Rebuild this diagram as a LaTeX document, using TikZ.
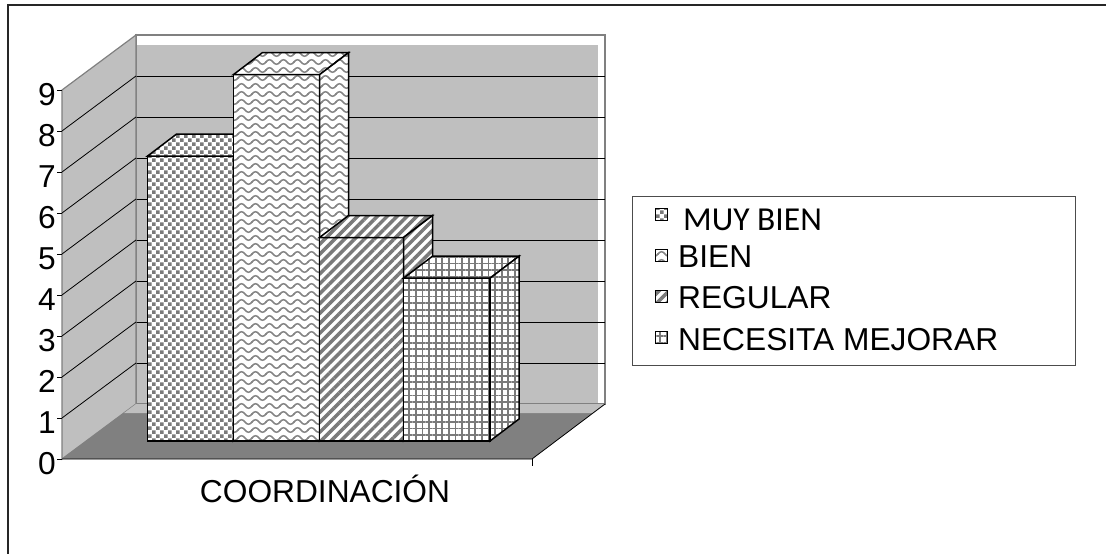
\documentclass[tikz,border=0pt]{standalone}
\usepackage{fontspec}
\setmainfont{Liberation Sans}
\newfontfamily\carl{Carlito}
\usetikzlibrary{patterns,patterns.meta}

\definecolor{wallgray}{gray}{0.75}
\definecolor{floorgray}{gray}{0.5}
\definecolor{edgegray}{gray}{0.5}
\definecolor{patgray}{gray}{0.48}
\definecolor{wavegray}{gray}{0.52}

\pgfdeclarepatternformonly{chkdots}{\pgfqpoint{-0.5pt}{-0.5pt}}{\pgfqpoint{8.5pt}{8.5pt}}{\pgfqpoint{8pt}{8pt}}{%
  \pgfpathrectangle{\pgfqpoint{0pt}{0pt}}{\pgfqpoint{3.6pt}{3.6pt}}%
  \pgfpathrectangle{\pgfqpoint{4pt}{4pt}}{\pgfqpoint{3.6pt}{3.6pt}}%
  \pgfusepath{fill}}
\pgfdeclarepatternformonly{wavy}{\pgfqpoint{-1pt}{-1pt}}{\pgfqpoint{15pt}{9pt}}{\pgfqpoint{14pt}{8pt}}{%
  \pgfsetlinewidth{1.5pt}%
  \pgfpathmoveto{\pgfqpoint{-0.4pt}{3.5pt}}%
  \pgfpathlineto{\pgfqpoint{0pt}{4pt}}%
  \pgfpathcurveto{\pgfqpoint{2.3pt}{7pt}}{\pgfqpoint{4.7pt}{7pt}}{\pgfqpoint{7pt}{4pt}}%
  \pgfpathcurveto{\pgfqpoint{9.3pt}{1pt}}{\pgfqpoint{11.7pt}{1pt}}{\pgfqpoint{14pt}{4pt}}%
  \pgfpathlineto{\pgfqpoint{14.4pt}{4.5pt}}%
  \pgfusepath{stroke}}

\tikzset{
  lbl/.style={font=\fontsize{31.7}{38}\selectfont, inner sep=0pt},
  grid line/.style={black, line width=0.8pt},
  wall edge/.style={edgegray, line width=1.2pt},
  barface/.style={draw=black, line width=1.5pt, line join=miter, preaction={fill=white}},
  pdots/.style={barface, pattern=chkdots, pattern color=patgray},
  pwave/.style={barface, pattern=wavy, pattern color=wavegray},
  pstripe/.style={barface, pattern={Lines[angle=45, distance=7pt, line width=3.5pt]}, pattern color=patgray},
  pgrid/.style={barface, pattern={Hatch[angle=0, distance=6.6pt, line width=1.8pt]}, pattern color=patgray},
  keybox/.style={line width=0.8pt},
}

\newcommand\drawbar[4]{%
  \pgfmathsetmacro\barT{441-40.7*#3}%
  \path[#4] (#1,\barT) rectangle (#2,441);
  \path[#4] (#1,\barT) -- ({#1+29},{\barT-22}) -- ({#2+29},{\barT-22}) -- (#2,\barT) -- cycle;
  \path[#4] (#2,\barT) -- ({#2+29},{\barT-22}) -- ({#2+29},419) -- (#2,441) -- cycle;
}

\begin{document}
\begin{tikzpicture}[x=1pt,y=-1pt]
\useasboundingbox (0,0) rectangle (1106,554);
\fill[white] (0,0) rectangle (1106,554);

% outer frame
\draw[line width=2pt, black!85] (8,560) -- (8,5) -- (1112,5);

% back wall
\draw[wall edge, fill=white] (136,35) rectangle (605,404);
\fill[wallgray] (137,45) rectangle (598,403);
\foreach \k in {1,...,8} \draw[grid line] (136,{404-41*\k}) -- (605,{404-41*\k});

% left wall
\draw[wall edge, fill=wallgray] (62,90) -- (136,35) -- (136,404) -- (62,459) -- cycle;
\foreach \k in {1,...,8} \draw[grid line] (62,{459-41*\k}) -- (136,{404-41*\k});

% floor
\fill[floorgray] (62,459) -- (136,404) -- (605,404) -- (532,459) -- cycle;
\fill[wallgray] (124,413) -- (136,404) -- (605,404) -- (593,413) -- cycle;
\draw[grid line] (62,459) -- (532,459) -- (605,404);
\draw[grid line] (532,459) -- (532,466);

% ticks and labels
\foreach \k in {0,...,9} {
  \draw[grid line] (57,{459-41*\k}) -- (62,{459-41*\k});
  \node[lbl, anchor=base east] (y\k) at (56,{459-41*\k+15}) {\k};
}

% bars
\drawbar{147.5}{233.3}{7}{pdots}
\drawbar{233.3}{319.5}{9}{pwave}
\drawbar{319.5}{403.5}{5}{pstripe}
\drawbar{403.5}{490}{4}{pgrid}

% category label
\node[lbl, anchor=base] (cat) at (325,502) {COORDINACIÓN};

% legend
\draw[line width=1pt, black!70] (632,196) rectangle (1075,365);
\path[pdots, keybox] (655,208) rectangle (667,220);
\path[pwave, keybox] (655,249) rectangle (667,261);
\path[pstripe, keybox] (655,290) rectangle (667,302);
\path[pgrid, keybox] (655,331) rectangle (667,343);
\node[inner sep=0pt, anchor=base west, font=\carl\fontsize{33.5}{40}\selectfont] (l1) at (683,230) {MUY BIEN};
\node[lbl, anchor=base west] (l2) at (678,267) {BIEN};
\node[lbl, anchor=base west] (l3) at (678,308) {REGULAR};
\node[lbl, anchor=base west] (l4) at (678,350) {NECESITA MEJORAR};
\end{tikzpicture}
\end{document}
